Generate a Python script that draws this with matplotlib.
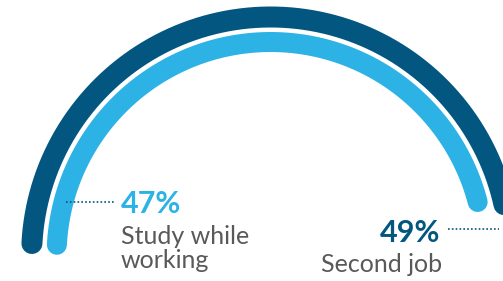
import numpy as np
import matplotlib
matplotlib.use("Agg")
import matplotlib.pyplot as plt

# data
labels = ["Second job", "Study while\nworking"]
values = [49, 47]
pct_text = ["49%", "47%"]

dark = "#02567f"
light = "#2db2e6"
grey = "#595959"

# layout (pixel coords)
cx, cy = 270.6, 256
radii = [239, 214]
widths = [21, 20]
colors = [dark, light]
start_deg = 177
deg_per_pct = 3.455

fig = plt.figure(figsize=(5.03, 2.81), dpi=100)
ax = fig.add_axes([0, 0, 1, 1])
ax.set_xlim(0, 503)
ax.set_ylim(281, 0)
ax.axis("off")

px = 72 / 100  # pixel -> points

for v, r, w, c in zip(values, radii, widths, colors):
    end = start_deg - v * deg_per_pct
    t = np.radians(np.linspace(start_deg, end, 300))
    ax.plot(cx + r * np.cos(t), cy - r * np.sin(t), color=c, lw=w * px,
            solid_capstyle="round")

# dotted leader lines
ax.plot([66, 115], [202, 202], color=dark, lw=1.2, ls=(0, (1, 1.3)))
ax.plot([448, 499], [229, 229], color=dark, lw=1.2, ls=(0, (1, 1.3)))

# labels
ax.text(121, 213, pct_text[1], color=light, fontsize=22, fontweight="bold",
        family="Lato", ha="left", va="baseline")
ax.text(121, 268, labels[1], color=grey, fontsize=18, family="Lato",
        ha="left", va="baseline", linespacing=1.05)
ax.text(440, 242, pct_text[0], color=dark, fontsize=22, fontweight="bold",
        family="Lato", ha="right", va="baseline")
ax.text(442, 272, labels[0], color=grey, fontsize=18, family="Lato",
        ha="right", va="baseline")

fig.savefig("out.png", dpi=100)
